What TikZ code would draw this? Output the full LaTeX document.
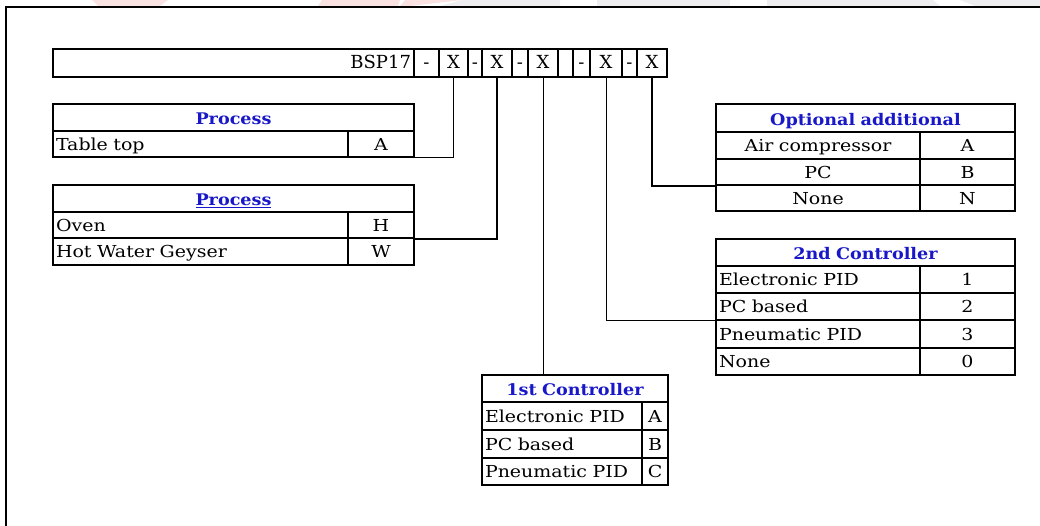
\documentclass[tikz,border=0pt]{standalone}
\usepackage{fontspec}
\setmainfont{DejaVu Serif}
\newfontfamily\barfont{DejaVu Serif}
\newfontfamily\cellfont[FakeStretch=1.15]{DejaVu Serif}
\newfontfamily\hdrfont[FakeStretch=1.1]{DejaVu Serif}
\definecolor{hdrblue}{RGB}{24,24,200}
\definecolor{wmpink}{RGB}{250,226,226}
\definecolor{wmgray}{RGB}{238,238,240}
\tikzset{
  cell/.style={draw=black, line width=1.6pt, inner xsep=0pt, inner ysep=0pt,
    text height=14pt, text depth=2pt, font=\cellfont\fontsize{16.5}{18}\selectfont},
  hdr/.style={cell, text height=14pt, text depth=0pt,
    font=\hdrfont\fontsize{16}{18}\selectfont\bfseries, text=hdrblue},
  barcell/.style={draw=black, line width=1.1pt, inner xsep=0pt, inner ysep=0pt,
    text height=13pt, text depth=2pt, font=\barfont\fontsize{18}{19}\selectfont},
  link/.style={draw=black, line width=0.8pt},
  thicklink/.style={draw=black, line width=1.6pt}
}
% name, x1, y1, x2, y2, align, style, text
\newcommand\tcell[8]{%
  \pgfmathsetmacro\cw{#4-#2}\pgfmathsetmacro\ch{#5-#3}\pgfmathsetmacro\tw{#4-#2-6}%
  \node[#7, minimum width=\cw pt, minimum height=\ch pt, text width=\tw pt, align=#6]
    (#1) at ({(#2+#4)/2},{(#3+#5)/2}) {#8};}
\begin{document}
\begin{tikzpicture}[x=1pt,y=-1pt]
\useasboundingbox (0,0) rectangle (1040,525);
\clip (0,0) rectangle (1040,525);
% faint background watermark at the top
\fill[wmpink] (92,0) -- (168,0) -- (160,6) -- (98,6) -- cycle;
\fill[wmpink] (322,0) -- (400,0) -- (398,6) -- (318,6) -- cycle;
\fill[wmpink] (405,0) -- (462,0) -- (410,6) -- (400,6) -- cycle;
\fill[wmgray] (462,0) -- (560,0) -- (560,6) -- (440,6) -- cycle;
\fill[wmgray] (597,0) -- (730,0) -- (730,6) -- (597,6) -- cycle;
\fill[wmgray] (767,0) -- (933,0) -- (940,6) -- (767,6) -- cycle;
\fill[wmgray] (960,0) -- (1040,0) -- (1040,6) -- (975,6) -- cycle;
% outer frame
\draw[line width=2.5pt] (6,600) -- (6,7) -- (1100,7);

% code bar
\tcell{bsp}{53}{49}{414}{77}{right}{barcell}{BSP17}
\tcell{d1}{414}{49}{439}{77}{center}{barcell}{-}
\tcell{x1}{439}{49}{468}{77}{center}{barcell}{X}
\tcell{d2}{468}{49}{482}{77}{center}{barcell}{-}
\tcell{x2}{482}{49}{512}{77}{center}{barcell}{X}
\tcell{d3}{512}{49}{528}{77}{center}{barcell}{-}
\tcell{x3}{528}{49}{558}{77}{center}{barcell}{X}
\tcell{bl}{558}{49}{573}{77}{center}{barcell}{}
\tcell{d4}{573}{49}{590}{77}{center}{barcell}{-}
\tcell{x4}{590}{49}{622}{77}{center}{barcell}{X}
\tcell{d5}{622}{49}{637}{77}{center}{barcell}{-}
\tcell{x5}{637}{49}{667}{77}{center}{barcell}{X}

% Process (Table top)
\tcell{ph}{53}{104}{414}{131}{center}{hdr}{Process}
\tcell{pt}{53}{131}{348}{157}{left}{cell}{Table top}
\tcell{pA}{348}{131}{414}{157}{center}{cell}{A}

% Process (Oven / Geyser)
\tcell{qh}{53}{185}{414}{212}{center}{hdr}{\underline{Process}}
\tcell{qo}{53}{212}{348}{238}{left}{cell}{Oven}
\tcell{qH}{348}{212}{414}{238}{center}{cell}{H}
\tcell{qg}{53}{238}{348}{265}{left}{cell}{Hot Water Geyser}
\tcell{qW}{348}{238}{414}{265}{center}{cell}{W}

% Optional additional
\tcell{oh}{716}{104}{1015}{132}{center}{hdr}{Optional additional}
\tcell{oa}{716}{132}{920}{159}{center}{cell}{Air compressor}
\tcell{oA}{920}{132}{1015}{159}{center}{cell}{A}
\tcell{ob}{716}{159}{920}{185}{center}{cell}{PC}
\tcell{oB}{920}{159}{1015}{185}{center}{cell}{B}
\tcell{on}{716}{185}{920}{211}{center}{cell}{None}
\tcell{oN}{920}{185}{1015}{211}{center}{cell}{N}

% 2nd Controller
\tcell{sh}{716}{239}{1015}{266}{center}{hdr}{2nd Controller}
\tcell{s1}{716}{266}{920}{293}{left}{cell}{Electronic PID}
\tcell{s1v}{920}{266}{1015}{293}{center}{cell}{1}
\tcell{s2}{716}{293}{920}{320}{left}{cell}{PC based}
\tcell{s2v}{920}{293}{1015}{320}{center}{cell}{2}
\tcell{s3}{716}{320}{920}{348}{left}{cell}{Pneumatic PID}
\tcell{s3v}{920}{320}{1015}{348}{center}{cell}{3}
\tcell{s4}{716}{348}{920}{375}{left}{cell}{None}
\tcell{s4v}{920}{348}{1015}{375}{center}{cell}{0}

% 1st Controller
\tcell{fh}{482}{375}{668}{402}{center}{hdr}{1st Controller}
\tcell{f1}{482}{402}{642}{430}{left}{cell}{Electronic PID}
\tcell{f1v}{642}{402}{668}{430}{center}{cell}{A}
\tcell{f2}{482}{430}{642}{458}{left}{cell}{PC based}
\tcell{f2v}{642}{430}{668}{458}{center}{cell}{B}
\tcell{f3}{482}{458}{642}{485}{left}{cell}{Pneumatic PID}
\tcell{f3v}{642}{458}{668}{485}{center}{cell}{C}

% connectors
\draw[link] (x1.south) |- (pA.south east);
\draw[thicklink] (x2.south) |- (qH.south east);
\draw[link] (x3.south) -- (x3.south |- fh.north);
\draw[link] (x4.south) |- (s2.south west);
\draw[thicklink] (x5.south) |- (ob.south west);
\end{tikzpicture}
\end{document}
